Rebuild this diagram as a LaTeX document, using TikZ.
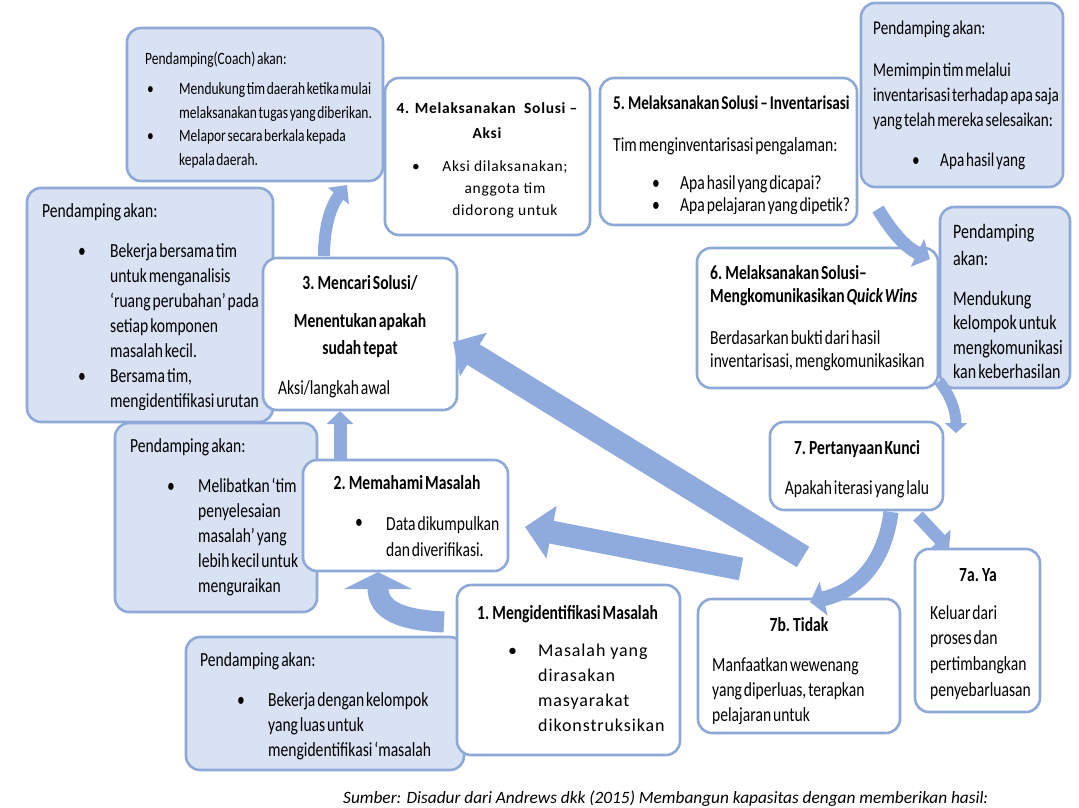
\documentclass[tikz,border=0pt]{standalone}
\usepackage{fontspec}
\setmainfont{Carlito}
\newfontfamily\cond[FakeStretch=0.78, WordSpace=0.55]{Carlito}
\newfontfamily\spc[LetterSpace=4.5]{Carlito}
\newfontfamily\spcb[LetterSpace=5]{Carlito}
\usetikzlibrary{arrows.meta}
\definecolor{bfill}{HTML}{D9E2F3}
\definecolor{bdraw}{HTML}{8EA9D8}
\definecolor{arr}{HTML}{8FAADC}
\newcommand\fs[2]{\fontsize{#1}{#2}\selectfont}
\newcommand\mkbox[6]{\node[#2, minimum width={(#5-#3)*1pt}, minimum height={(#6-#4)*1pt}] (#1) at (#3,#4) {};}
\begin{document}
\begin{tikzpicture}[x=1pt,y=-1pt,
  wbox/.style={draw=bdraw, line width=2.6pt, rounded corners=14pt, anchor=north west, inner sep=0pt, outer sep=0pt, fill=white},
  pbox/.style={wbox, fill=bfill},
  tx/.style={inner sep=0pt, anchor=north west, align=left, font={\cond\fs{20}{25}}},
  tb/.style={tx, font={\cond\bfseries\fs{20}{25}}},
  tc/.style={tb, anchor=north, align=center},
  fa/.style={draw=arr, line cap=butt},
]
\useasboundingbox (0,0) rectangle (1079,807);
\fill[white] (0,0) rectangle (1079,807);

% ---------- coach box
\mkbox{coach}{pbox}{127}{28}{383}{181}
\node[tx, font={\cond\fs{17.3}{24}}] (coachT) at (145,47) {\strut Pendamping(Coach) akan:};
\node[tx, font={\cond\fs{17.3}{24}}] (coachb1) at (147,77) {\strut•};
\node[tx, font={\cond\fs{17.3}{24}}] (coachb2) at (147,124) {\strut•};
\node[tx, font={\cond\fs{17.3}{24}}] (coachL1) at (179,77) {\strut Mendukung tim daerah ketika mulai\\melaksanakan tugas yang diberikan.};
\node[tx, font={\cond\fs{17.3}{24}}] (coachL2) at (179,124) {\strut Melapor secara berkala kepada\\kepala daerah.};

% ---------- box 4
\mkbox{b4}{wbox}{385}{78}{590}{235}
\node[tx, anchor=north, align=center, font={\spc\bfseries\fs{15.5}{25}}] (b4T) at (487,96) {\strut 4. Melaksanakan~~Solusi –\\Aksi};
\node[tx, font={\spc\fs{15.5}{22}}] (b4b) at (412,156) {\strut•};
\node[tx, anchor=north, align=center, font={\spc\fs{15.5}{22}}] (b4L) at (505,156) {\strut Aksi dilaksanakan;\\anggota tim\\didorong untuk};

% ---------- top right pendamping
\mkbox{ptr}{pbox}{861}{3}{1063}{187}
\node[tx, font={\cond\fs{19.5}{25}}] (ptrT) at (873,17) {\strut Pendamping akan:};
\node[tx, font={\cond\fs{19.5}{25}}] (ptrL) at (873,59) {\strut Memimpin tim melalui\\inventarisasi terhadap apa saja\\yang telah mereka selesaikan:};
\node[tx, font={\cond\fs{19.5}{25}}] (ptrb) at (912,149) {\strut•};
\node[tx, font={\cond\fs{19.5}{25}}] (ptrL2) at (940,149) {\strut Apa hasil yang};

% ---------- box 5
\mkbox{b5}{wbox}{600}{78}{857}{225}
\node[tb, font={\cond\bfseries\fs{19.5}{25}}] (b5T) at (613,92) {\strut 5. Melaksanakan Solusi – Inventarisasi};
\node[tx] (b5L) at (613,134) {\strut Tim menginventarisasi pengalaman:};
\begin{scope}
\clip (600,78) rectangle (857,213);
\node[tx, font={\cond\fs{20}{22}}] (b5b) at (652,174) {\strut•\\•};
\node[tx, font={\cond\fs{20}{22}}] (b5L2) at (680,174) {\strut Apa hasil yang dicapai?\\Apa pelajaran yang dipetik?};
\end{scope}

% ---------- left big pendamping
\mkbox{pl}{pbox}{27}{188}{273}{422}
\node[tx] (plT) at (42,200) {\strut Pendamping akan:};
\begin{scope}
\clip (27,188) rectangle (273,409);
\node[tx] (plb1) at (78,240) {\strut•};
\node[tx] (plb2) at (78,365) {\strut•};
\node[tx] (plL1) at (110,240) {\strut Bekerja bersama tim\\untuk menganalisis\\‘ruang perubahan’ pada\\setiap komponen\\masalah kecil.};
\node[tx] (plL2) at (110,365) {\strut Bersama tim,\\mengidentifikasi urutan};
\end{scope}

% ---------- box 3
\mkbox{b3}{wbox}{263}{258}{457}{410}
\node[tc] (b3T) at (360,272) {\strut 3. Mencari Solusi/};
\node[tc, font={\cond\bfseries\fs{20}{27}}] (b3T2) at (360,308.5) {\strut Menentukan apakah\\sudah tepat};
\node[tx] (b3L) at (278,377) {\strut Aksi/langkah awal};

% ---------- pendamping 2
\mkbox{p2}{pbox}{115}{423}{317}{612}
\node[tx] (p2T) at (130,435) {\strut Pendamping akan:};
\node[tx] (p2b) at (167,475) {\strut•};
\node[tx] (p2L) at (198,475) {\strut Melibatkan ‘tim\\penyelesaian\\masalah’ yang\\lebih kecil untuk\\menguraikan};

% ---------- box 2
\mkbox{b2}{wbox}{303}{460}{508}{571}
\node[tc] (b2T) at (407,472) {\strut 2. Memahami Masalah};
\node[tx] (b2b) at (355,511) {\strut•};
\node[tx, font={\cond\fs{20}{26}}] (b2L) at (386,512) {\strut Data dikumpulkan\\dan diverifikasi.};

% ---------- right small pendamping
\mkbox{prs}{pbox}{940}{207}{1070}{388}
\node[tx, font={\cond\fs{20.5}{27}}] (prsT) at (953,219) {\strut Pendamping\\akan:};
\node[tx, font={\cond\fs{20.5}{24.5}}] (prsL) at (953,288) {\strut Mendukung\\kelompok untuk\\mengkomunikasi\\kan keberhasilan};

% ---------- box 6
\mkbox{b6}{wbox}{697}{248}{938}{388}
\node[tb, font={\cond\bfseries\fs{20}{23}}] (b6T) at (710,263) {\strut 6. Melaksanakan Solusi–\\Mengkomunikasikan \textit{Quick Wins}};
\node[tx, font={\cond\fs{20}{23}}] (b6L) at (710,328) {\strut Berdasarkan bukti dari hasil\\inventarisasi, mengkomunikasikan};

% ---------- box 7
\mkbox{b7}{wbox}{770}{422}{943}{510}
\node[tc] (b7T) at (857,437) {\strut 7. Pertanyaan Kunci};
\node[tx, anchor=north, align=center] (b7L) at (857,477) {\strut Apakah iterasi yang lalu};

% ---------- bottom pendamping
\mkbox{pb}{pbox}{186}{637}{464}{770}
\node[tx] (pbT) at (200,649) {\strut Pendamping akan:};
\node[tx] (pbb) at (237,689) {\strut•};
\node[tx] (pbL) at (268,689) {\strut Bekerja dengan kelompok\\yang luas untuk\\mengidentifikasi ‘masalah};

% ---------- box 1
\mkbox{b1}{wbox}{457}{585}{680}{755}
\node[tb] (b1T) at (477,602) {\strut 1. Mengidentifikasi Masalah};
\node[tx, font={\spcb\fs{18}{25}}] (b1b) at (508,639) {\strut•};
\node[tx, font={\spcb\fs{18}{25}}] (b1L) at (538,639) {\strut Masalah yang\\dirasakan\\masyarakat\\dikonstruksikan};

% ---------- box 7b
\mkbox{b7b}{wbox}{698}{599}{900}{733}
\node[tc] (b7bT) at (799,614) {\strut 7b. Tidak};
\begin{scope}
\clip (698,599) rectangle (900,723);
\node[tx] (b7bL) at (712,654) {\strut Manfaatkan wewenang\\yang diperluas, terapkan\\pelajaran untuk};
\end{scope}

% ---------- box 7a
\mkbox{b7a}{wbox}{915}{549}{1040}{712}
\node[tc] (b7aT) at (978,564) {\strut 7a. Ya};
\node[tx, font={\cond\fs{20}{25.7}}] (b7aL) at (930,601) {\strut Keluar dari\\proses dan\\pertimbangkan\\penyebarluasan};

% ---------- source
\node[inner sep=0pt, anchor=base west, font={\fs{17.3}{20}\itshape}] (src) at (343,803) {Sumber: Disadur dari Andrews dkk (2015) Membangun kapasitas dengan memberikan hasil:};

% ---------- connector end points
\coordinate (a12s) at (444,622);  \coordinate (a12e) at (378,572);
\coordinate (a23s) at (340,460);  \coordinate (a23e) at (340,411);
\coordinate (a3cs) at (324,256);  \coordinate (a3ce) at (347,185);
\coordinate (a56s) at (878,209);  \coordinate (a56e) at (930,259);
\coordinate (a67s) at (939,381);  \coordinate (a67e) at (956,433);
\coordinate (a7bs) at (891,512);  \coordinate (a7be) at (810,602);
\coordinate (a7as) at (918,516);  \coordinate (a7ae) at (949,549);
\coordinate (r3s) at (803,557);   \coordinate (r3e) at (453,342);
\coordinate (r2s) at (741,569);   \coordinate (r2e) at (525,527);

% ---------- arrows
\draw[fa, line width=24pt, -{Triangle[width=50pt,length=24pt]}] (r3s) -- (r3e);
\draw[fa, line width=23pt, -{Triangle[width=52pt,length=27pt]}] (r2s) -- (r2e);
\draw[fa, line width=13pt, -{Triangle[width=26pt,length=13pt]}] (a23s) -- (a23e);
\draw[fa, line width=21pt, -{Triangle[width=67pt,length=17pt]}] (a12s) .. controls (400,620) and (378,610) .. (a12e);
\draw[fa, line width=12pt, -{Triangle[width=26pt,length=14pt]}] (a3cs) .. controls (324,222) and (333,203) .. (a3ce);
\draw[fa, line width=13pt, -{Triangle[width=30pt,length=14pt]}] (a56s) .. controls (892,232) and (905,247) .. (a56e);
\draw[fa, line width=11pt, -{Triangle[width=22pt,length=10pt]}] (a67s) .. controls (950,395) and (956,410) .. (a67e);
\draw[fa, line width=15pt, -{Triangle[width=34pt,length=14pt]}] (a7bs) .. controls (885,560) and (860,590) .. (a7be);
\draw[fa, line width=13pt, -{Triangle[width=28pt,length=13pt]}] (a7as) -- (a7ae);
\end{tikzpicture}
\end{document}
